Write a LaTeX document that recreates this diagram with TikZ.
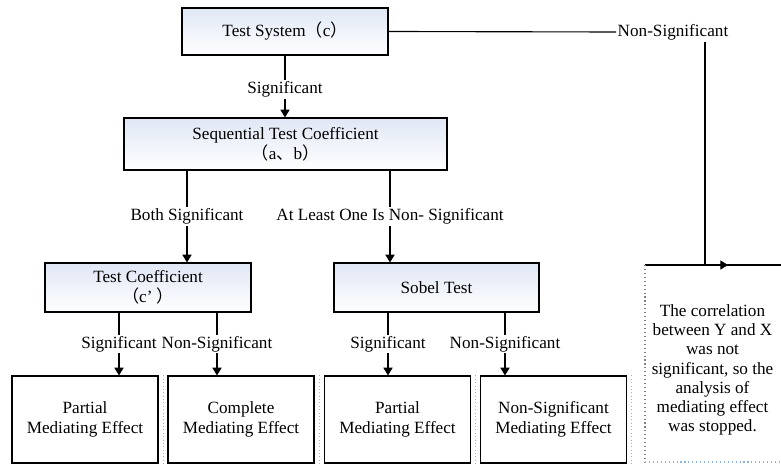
\documentclass[tikz,border=0pt]{standalone}
\usepackage{fontspec}
\setmainfont{Liberation Serif}
\newfontfamily\cjk{Noto Sans CJK SC}
\usepackage{tikz}
\usepackage{xcolor}
\usetikzlibrary{calc,arrows.meta}
\definecolor{boxblue}{HTML}{E0E7F5}
\definecolor{dotblue}{HTML}{8DB3E2}

\begin{document}
\begin{tikzpicture}[x=0.025cm,y=0.025cm]
        \tikzstyle{every node}=[font=\fontsize{12.2}{14.5}\selectfont, align=center]
        \tikzstyle{bluebox}=[draw, line width=0.8pt, top color=boxblue, bottom color=white, inner sep=0pt]
        \tikzstyle{whitebox}=[draw, line width=0.8pt, fill=white, minimum width=3.65cm, minimum height=2.175cm, inner sep=0pt]
        \tikzstyle{lab}=[fill=white, inner sep=1pt]
        \tikzstyle{arr}=[line width=0.8pt, -{Triangle[length=5.5pt,width=6.5pt]}]
        \useasboundingbox (0,0) rectangle (781,-465);
        \node[bluebox, minimum width=5.15cm, minimum height=1.175cm] (1) at (285,-31.5) {Test System{\cjk （}c{\cjk ）}};
        \node[bluebox, minimum width=8.075cm, minimum height=1.3cm] (2) at (285.5,-144) {Sequential Test Coefficient\\{\cjk （}a{\cjk 、}b{\cjk ）}};
        \node[bluebox, minimum width=5.15cm, minimum height=1.225cm] (3) at (148,-287.5) {Test Coefficient\\{\cjk （}c’ {\cjk ）}};
        \node[bluebox, minimum width=5.125cm, minimum height=1.225cm] (4) at (436.5,-287.5) {Sobel Test};
        % Bottom row
        \node[whitebox] (5) at (85,-419.5) {Partial\\Mediating Effect};
        \node[whitebox] (6) at ($(5) + (156,0)$) {Complete\\Mediating Effect};
        \node[whitebox] (7) at ($(6) + (156.5,0)$) {Partial\\Mediating Effect};
        \node[whitebox] (8) at ($(7) + (156,0)$) {Non-Significant\\Mediating Effect};
        \draw[dotted, dotblue] ($(5.north east) + (4.5,0)$) -- ($(5.south east) + (4.5,0)$);
        \draw[dotted, dotblue] ($(6.north east) + (4.5,0)$) -- ($(6.south east) + (4.5,0)$);
        \draw[dotted, dotblue] ($(7.north east) + (4.5,0)$) -- ($(7.south east) + (4.5,0)$);
        \draw[dotted, dotblue] ($(8.north east) + (4.5,0)$) -- ($(8.south east) + (4.5,0)$);
        % Stop box
        \node[font=\fontsize{12.2}{13.7}\selectfont] (9) at (712.5,-370) {The correlation\\between Y and X\\was not\\significant, so the\\analysis of\\mediating effect\\was stopped.};
        \coordinate (9a) at (645,-265);
        \coordinate (9b) at (781,-265);
        \coordinate (9c) at (645,-462);
        \coordinate (9d) at (781,-462);
        \draw[line width=0.8pt] (9a)--(9b);
        \draw[dotted, line width=0.8pt, gray] (9a)--(9c);
        \draw[dotted, line width=0.8pt, dotblue] (9c)--(9d);
        % Connectors
        \draw[arr] (1.south) -- node[lab, pos=0.55] (s1) {Significant} (1.south |- 2.north);
        \coordinate (b1) at ($(2.south) + (-98.5,0)$);
        \coordinate (b2) at ($(2.south) + (104.5,0)$);
        \draw[arr] (b1) -- node[lab] (s2) {Both Significant} (b1 |- 3.north);
        \draw[arr] (b2) -- node[lab] (s3) {At Least One Is Non- Significant} (b2 |- 4.north);
        \coordinate (c1) at ($(3.south) + (-29,0)$);
        \coordinate (c2) at ($(3.south) + (69,0)$);
        \coordinate (c3) at ($(4.south) + (-48.5,0)$);
        \coordinate (c4) at ($(4.south) + (68.5,0)$);
        \draw[arr] (c1) -- node[lab] (s4) {Significant} (c1 |- 5.north);
        \draw[arr] (c2) -- node[lab] (s5) {Non-Significant} (c2 |- 6.north);
        \draw[arr] (c3) -- node[lab] (s6) {Significant} (c3 |- 7.north);
        \draw[arr] (c4) -- node[lab] (s7) {Non-Significant} (c4 |- 8.north);
        % Non-significant branch
        \node[inner sep=1pt] (10) at (673,-32) {Non-Significant};
        \draw[line width=0.8pt] (1.east)--(10.west);
        \coordinate (11) at (705,-265);
        \coordinate (12) at (728,-265);
        \draw[arr] (10.south -| 11) |- (12);
    \end{tikzpicture}
\end{document}
